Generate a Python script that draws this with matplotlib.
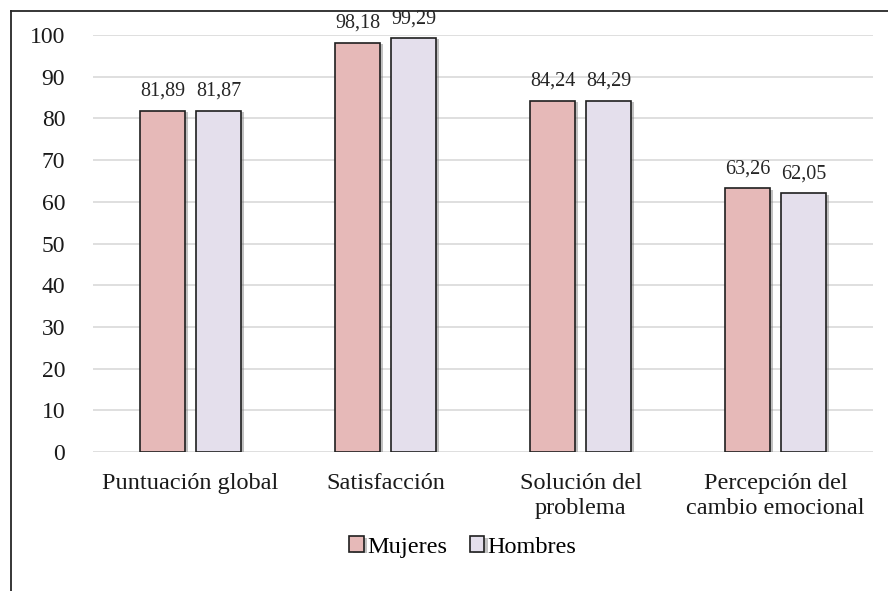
import matplotlib.pyplot as plt
import matplotlib.patheffects as pe
from matplotlib.lines import Line2D
import numpy as np

# --- datos ---
categorias = ['Puntuación global', 'Satisfacción', 'Solución del\nproblema',
              'Percepción del\ncambio emocional']
mujeres = [81.89, 98.18, 84.24, 63.26]
hombres = [81.87, 99.29, 84.29, 62.05]
etiquetas_m = ['81,89', '98,18', '84,24', '63,26']
etiquetas_h = ['81,87', '99,29', '84,29', '62,05']
yticks = [0, 10, 20, 30, 40, 50, 60, 70, 80, 90, 100]

plt.rcParams['font.family'] = ['Liberation Serif', 'DejaVu Serif']

W, H = 888, 591
fig = plt.figure(figsize=(W / 100, H / 100), dpi=100)
ax = fig.add_axes([93 / W, 1 - 452 / H, (873 - 93) / W, (452 - 35) / H])

x = np.arange(len(categorias))
ancho = 0.226
desp = 0.287
sombra = [pe.SimplePatchShadow(offset=(2.5, -1), shadow_rgbFace='#777777', alpha=0.45),
          pe.Normal()]

b1 = ax.bar(x - desp / 2, mujeres, ancho, color='#E6B9B8',
            edgecolor='#1f1f1f', linewidth=1.2, label='Mujeres', zorder=3)
b2 = ax.bar(x + desp / 2, hombres, ancho, color='#E4DFEC',
            edgecolor='#1f1f1f', linewidth=1.2, label='Hombres', zorder=3)
for barras in (b1, b2):
    for p in barras:
        p.set_path_effects(sombra)

for xi, v, t in zip(x - desp / 2, mujeres, etiquetas_m):
    ax.annotate(t, (xi, v), xytext=(0, 7), textcoords='offset points',
                ha='center', va='bottom', fontsize=14.5, color='#262626')
for xi, v, t in zip(x + desp / 2, hombres, etiquetas_h):
    ax.annotate(t, (xi, v), xytext=(0, 7), textcoords='offset points',
                ha='center', va='bottom', fontsize=14.5, color='#262626')

ax.set_xlim(-0.5, len(categorias) - 0.5)
ax.set_ylim(0, 100)
ax.set_yticks(yticks)
ax.set_yticklabels([str(v) for v in yticks], fontsize=17)
ax.set_xticks(x)
ax.set_xticklabels(categorias, fontsize=17.5, linespacing=1.25)
ax.tick_params(axis='both', length=0, colors='#1a1a1a')
ax.tick_params(axis='y', pad=20)
ax.tick_params(axis='x', pad=15)
for s in ax.spines.values():
    s.set_visible(False)
ax.grid(axis='y', color='#D9D9D9', linewidth=1.2, zorder=0)
ax.set_axisbelow(True)

fig.legend(handles=[b1, b2], labels=['Mujeres', 'Hombres'], loc='center',
           bbox_to_anchor=(463 / W, 1 - 547 / H), ncol=2, frameon=False,
           fontsize=17.5, handlelength=0.6, handleheight=0.6,
           handletextpad=0.15, columnspacing=0.9)

# marco del gráfico
fig.add_artist(Line2D([11 / W, 1.0], [1 - 11 / H, 1 - 11 / H], color='#262626', lw=1.3))
fig.add_artist(Line2D([11 / W, 11 / W], [0.0, 1 - 11 / H], color='#262626', lw=1.3))

fig.savefig('out.png', dpi=100)
